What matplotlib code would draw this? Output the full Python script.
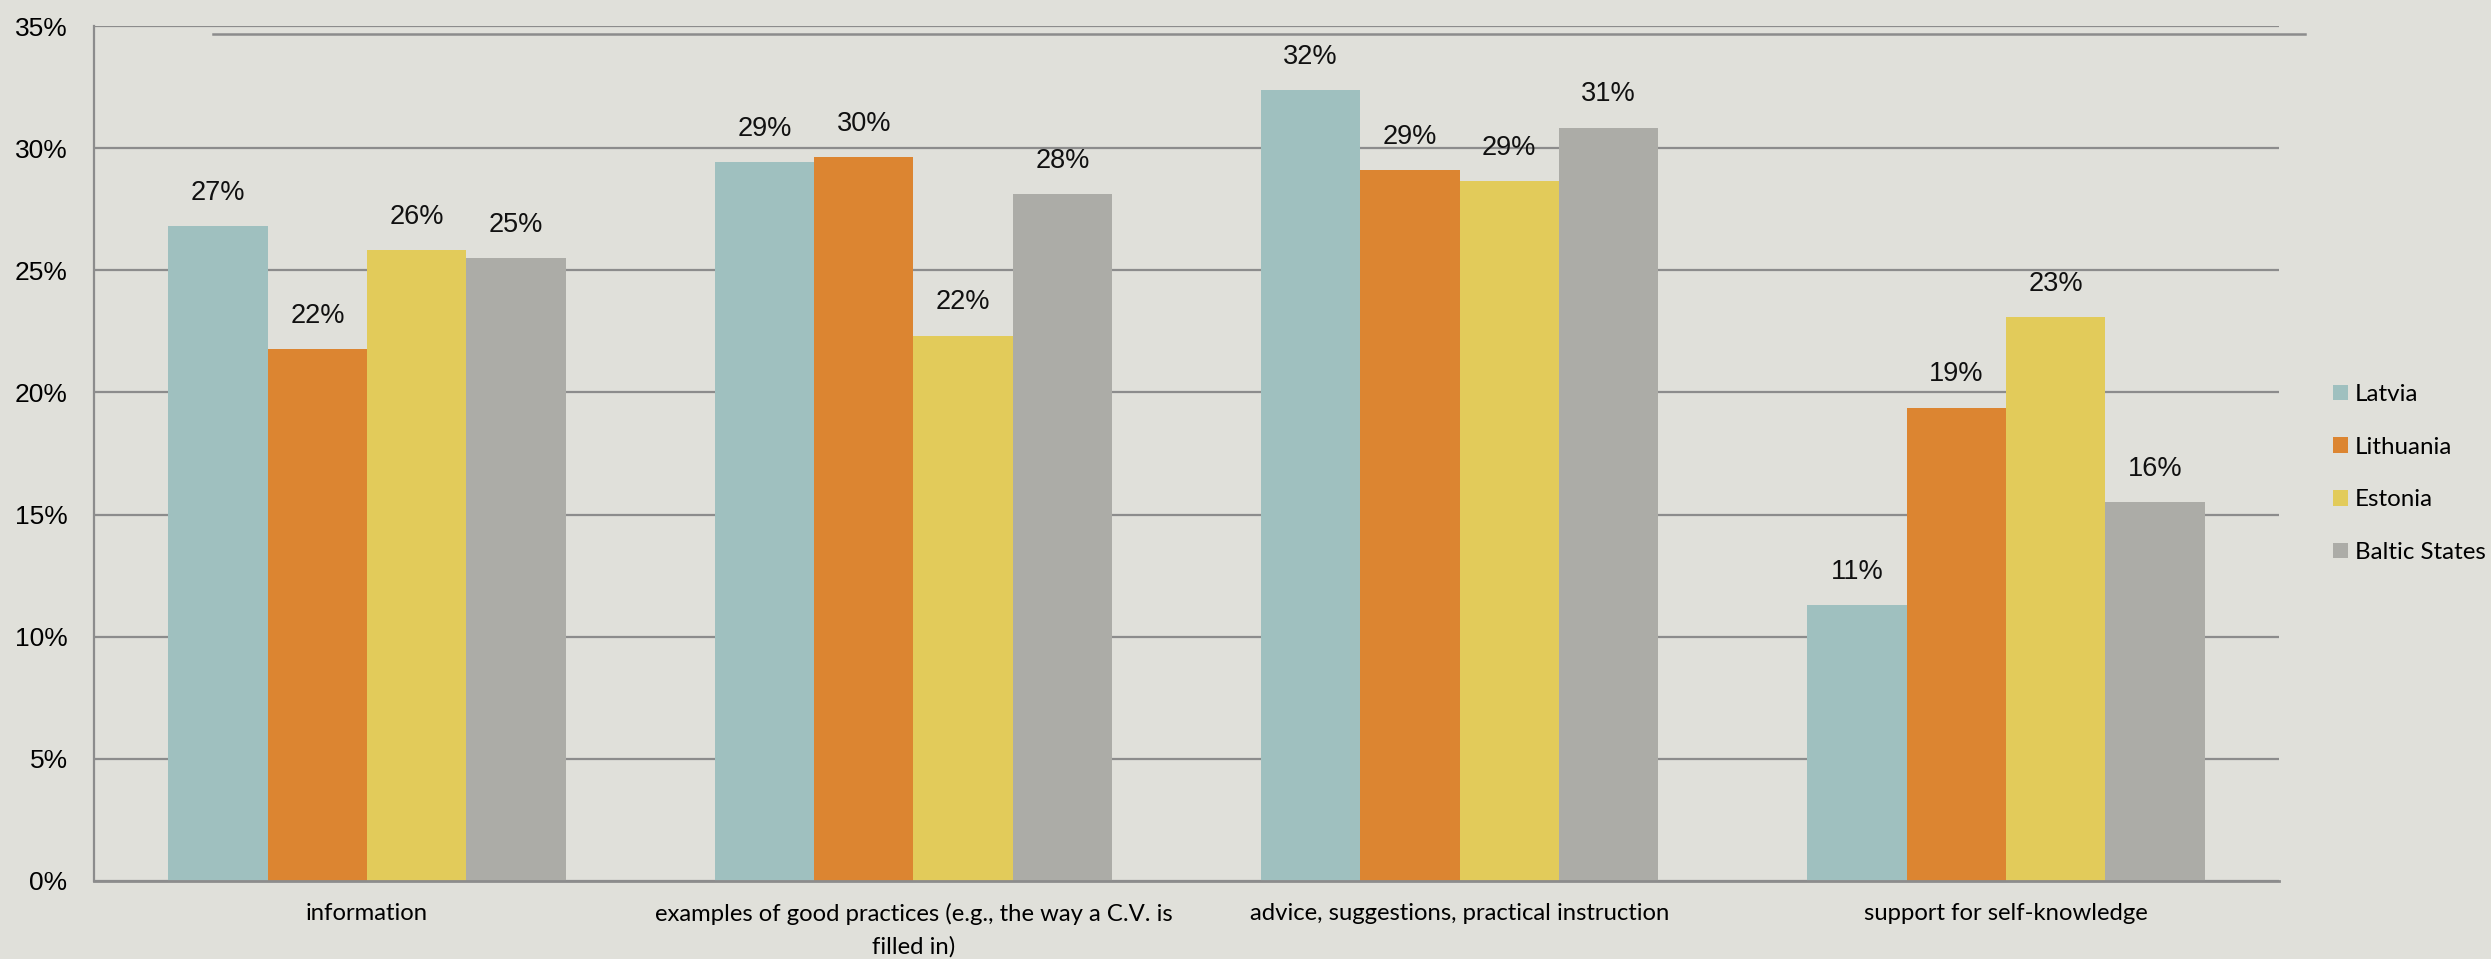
import matplotlib
matplotlib.use("Agg")
import matplotlib.pyplot as plt
from matplotlib.lines import Line2D
import numpy as np

categories = [
    "information",
    "examples of good practices (e.g., the way a C.V. is\nfilled in)",
    "advice, suggestions, practical instruction",
    "support for self-knowledge",
]
series_names = ["Latvia", "Lithuania", "Estonia", "Baltic States"]
latvia = [26.8, 29.43, 32.37, 11.28]
lithuania = [21.78, 29.64, 29.09, 19.38]
estonia = [25.83, 22.32, 28.65, 23.09]
baltic = [25.49, 28.11, 30.84, 15.5]
yticks = [0, 5, 10, 15, 20, 25, 30, 35]
ytick_labels = ["0%", "5%", "10%", "15%", "20%", "25%", "30%", "35%"]

colors = ["#9FC0BF", "#DC8531", "#E2CB5A", "#ACACA7"]
bg = "#E0E0DA"
grid_c = "#8C8C8C"

W, H = 2491, 959
fig = plt.figure(figsize=(W / 100, H / 100), dpi=100, facecolor=bg)
ax = fig.add_axes([94 / W, 1 - 881 / H, (2279 - 94) / W, (881 - 26) / H])
ax.set_facecolor(bg)

series = [latvia, lithuania, estonia, baltic]
w = 1 / 5.5
x = np.arange(len(categories))
for j, (name, vals, c) in enumerate(zip(series_names, series, colors)):
    xs = x + (j - 1.5) * w
    ax.bar(xs, vals, width=w, color=c, label=name, zorder=3, linewidth=0)
    for xi, v in zip(xs, vals):
        ax.annotate(f"{v:.0f}%", (xi, v), xytext=(0, 19), textcoords="offset points",
                    ha="center", va="baseline", fontsize=19.5,
                    family="Liberation Sans", color="#111111", zorder=4)

ax.set_xlim(-0.5, len(categories) - 0.5)
ax.set_ylim(0, 35)
ax.set_yticks(yticks)
ax.set_yticklabels(ytick_labels, family="Liberation Sans", fontsize=19)
ax.set_xticks(x)
ax.set_xticklabels(categories, family="Lato", fontsize=17.2, linespacing=1.6)
ax.tick_params(axis="y", length=0, pad=19)
ax.tick_params(axis="x", length=0, pad=16)

ax.yaxis.grid(True, color=grid_c, linewidth=1.6, zorder=1)
ax.set_axisbelow(True)
for s in ["top", "right"]:
    ax.spines[s].set_visible(False)
ax.spines["left"].set_color(grid_c)
ax.spines["left"].set_linewidth(1.6)
ax.spines["bottom"].set_color(grid_c)
ax.spines["bottom"].set_linewidth(2.0)
ax.spines["bottom"].set_zorder(5)

# decorative top rule
fig.add_artist(Line2D([213 / W, 2305 / W], [1 - 33.5 / H, 1 - 33.5 / H],
                      color=grid_c, linewidth=1.8))

leg = fig.legend(loc="center left", bbox_to_anchor=(2333 / W, 1 - 473.5 / H),
                 frameon=False, prop={"family": "Lato", "size": 17.4},
                 handlelength=0.62, handleheight=0.62, handletextpad=0.28,
                 labelspacing=1.31, borderpad=0, borderaxespad=0)

fig.savefig("out.png", dpi=100, facecolor=bg)
